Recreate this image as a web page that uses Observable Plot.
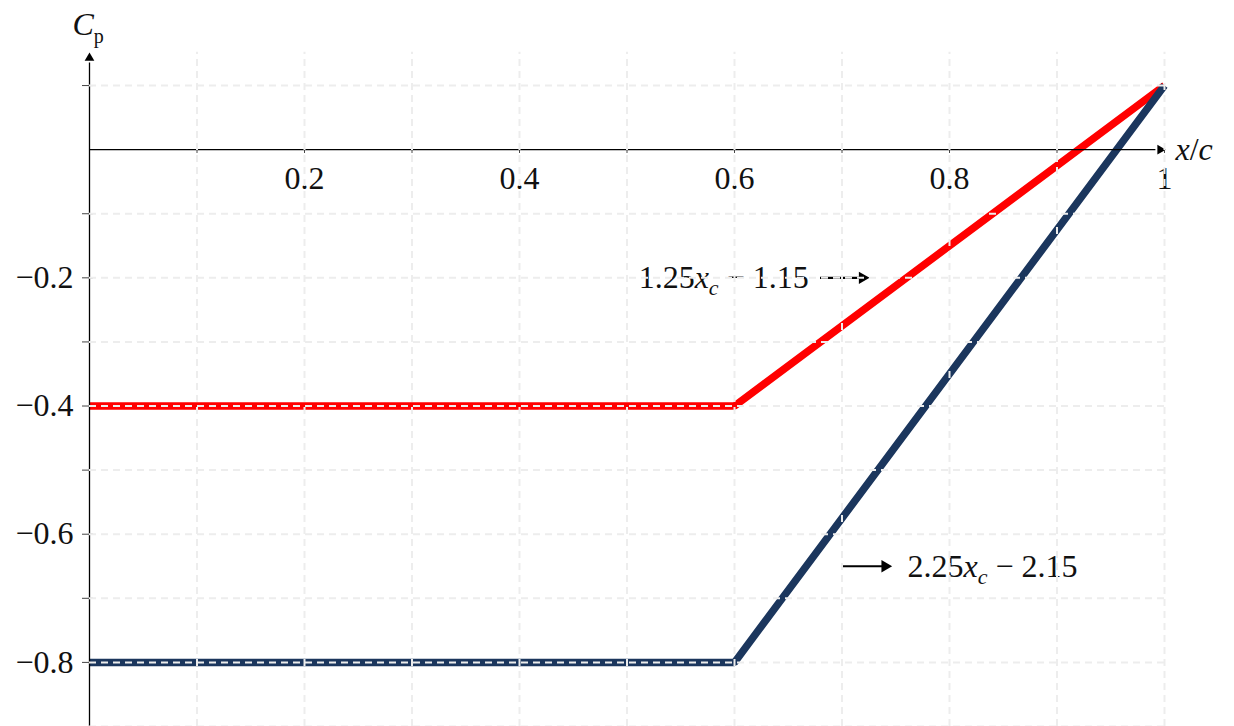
<!DOCTYPE html>
<html>
<head>
<meta charset="utf-8">
<script src="https://cdn.jsdelivr.net/npm/d3@7"></script>
<script src="https://cdn.jsdelivr.net/npm/@observablehq/plot@0.6"></script>
<style>
  html, body { margin: 0; padding: 0; background: #fff; }
  #chart { width: 1234px; height: 726px; overflow: hidden; }
</style>
</head>
<body>
<div id="chart"></div>
<script>
// Data
const xc = [0, 0.6, 1.0];
const cpUpper = [-0.4, -0.4, 0.1];   // 1.25 x_c - 1.15 for x_c > 0.6
const cpLower = [-0.8, -0.8, 0.1];   // 2.25 x_c - 2.15 for x_c > 0.6
const seriesNames = ["upper", "lower"];
const seriesColors = ["#ff0000", "#1b365d"];
const xTickValues = [0.1, 0.2, 0.3, 0.4, 0.5, 0.6, 0.7, 0.8, 0.9, 1.0];
const xTickLabels = [0.2, 0.4, 0.6, 0.8, 1];
const yTickValues = [-0.9, -0.8, -0.7, -0.6, -0.5, -0.4, -0.3, -0.2, -0.1, 0.1];
const yTickLabels = [-0.2, -0.4, -0.6, -0.8];
const annoUpper = [{x1: 0.68, x2: 0.727, y: -0.2, tx: 0.669, main: "1.25", rest: " − 1.15"}];
const annoLower = [{x1: 0.701, x2: 0.748, y: -0.65, tx: 0.761, main: "2.25", rest: " − 2.15"}];

const lineData = [];
xc.forEach((x, i) => {
  lineData.push({series: seriesNames[0], x, y: cpUpper[i]});
  lineData.push({series: seriesNames[1], x, y: cpLower[i]});
});

const FONT = "Liberation Serif, DejaVu Serif, serif";
const gridStyle = {stroke: "#ededed", strokeOpacity: 1, strokeWidth: 2, strokeDasharray: "7,5"};
const fmt = d => (d < 0 ? "\u2212" : "") + String(Math.abs(d));
const txt = {fontSize: 32, fontFamily: FONT, fill: "#111"};
const annos = annoUpper.concat(annoLower);

const plot = Plot.plot({
  width: 1234,
  height: 726,
  marginLeft: 89,
  marginRight: 70,
  marginTop: 53,
  marginBottom: 0,
  style: {background: "white"},
  x: {domain: [0, 1], axis: null},
  y: {domain: [-0.9, 0.15], axis: null},
  color: {domain: seriesNames, range: seriesColors},
  marks: [
    // data lines
    Plot.line(lineData, {x: "x", y: "y", z: "series", stroke: "series", strokeWidth: 7.5, strokeLinejoin: "miter", strokeLinecap: "butt"}),
    // axes lines
    Plot.ruleY([0], {x1: 0, x2: 0.992, stroke: "#000", strokeWidth: 1.3}),
    Plot.ruleX([0], {y1: -0.9, y2: 0.135, stroke: "#000", strokeWidth: 1.3}),
    Plot.dot([{x: 0.996, y: 0}], {x: "x", y: "y", symbol: "triangle", r: 3.6, fill: "#000", stroke: null, rotate: 90}),
    Plot.dot([{x: 0, y: 0.143}], {x: "x", y: "y", symbol: "triangle", r: 3.6, fill: "#000", stroke: null}),
    // ticks
    Plot.ruleX(xTickValues, {x: d => d, y1: -0.006, y2: 0.006, stroke: "#444", strokeWidth: 1}),
    Plot.ruleY(yTickValues, {y: d => d, x1: -0.0065, x2: 0.0035, stroke: "#444", strokeWidth: 1}),
    // tick labels
    Plot.text(xTickLabels, {x: d => d, y: 0, dy: 29, text: fmt, ...txt}),
    Plot.text(yTickLabels, {x: 0, y: d => d, dx: -16, textAnchor: "end", text: fmt, ...txt}),
    // annotation arrows
    Plot.ruleY(annos, {y: "y", x1: "x1", x2: d => d.x2 - 0.01, stroke: "#000", strokeWidth: 2.2}),
    Plot.dot(annos, {x: d => d.x2 - 0.008, y: "y", symbol: "triangle", r: 4.6, fill: "#000", stroke: null, rotate: 90}),
    Plot.text(annoUpper, {x: "tx", y: "y", text: d => d.main + "|" + d.rest, textAnchor: "end", className: "anno", ...txt}),
    Plot.text(annoLower, {x: "tx", y: "y", text: d => d.main + "|" + d.rest, textAnchor: "start", className: "anno", ...txt}),
    // axis labels
    Plot.text(["x/c"], {x: 1, y: 0, dx: 11, textAnchor: "start", text: d => d, className: "xlab", ...txt}),
    Plot.text(["Cp"], {x: 0, y: 0.15, dx: -17, dy: -29, textAnchor: "start", text: d => d, className: "ylab", ...txt}),
    // grid on top
    Plot.gridX(xTickValues, {...gridStyle, y1: -0.9, y2: 0.152}),
    Plot.gridY(yTickValues, {...gridStyle, x1: 0, x2: 1})
  ]
});

document.getElementById("chart").appendChild(plot);

// Rich text formatting (math italics, subscripts)
const svg = d3.select(plot);
svg.selectAll("g.anno text").each(function() {
  const t = d3.select(this);
  const [main, rest] = t.text().split("|");
  t.text(null);
  t.append("tspan").text(main);
  t.append("tspan").attr("font-style", "italic").text("x");
  t.append("tspan").attr("font-style", "italic").attr("font-size", "22px").attr("dy", "7").text("c");
  t.append("tspan").attr("dy", "-7").text(rest);
});
svg.selectAll("g.xlab text").each(function() {
  const t = d3.select(this);
  t.text(null);
  t.append("tspan").attr("font-style", "italic").text("x");
  t.append("tspan").text("/");
  t.append("tspan").attr("font-style", "italic").text("c");
});
svg.selectAll("g.ylab text").each(function() {
  const t = d3.select(this);
  t.text(null);
  t.append("tspan").attr("font-style", "italic").text("C");
  t.append("tspan").attr("font-size", "20px").attr("dy", "8").text("p");
});
</script>
</body>
</html>
